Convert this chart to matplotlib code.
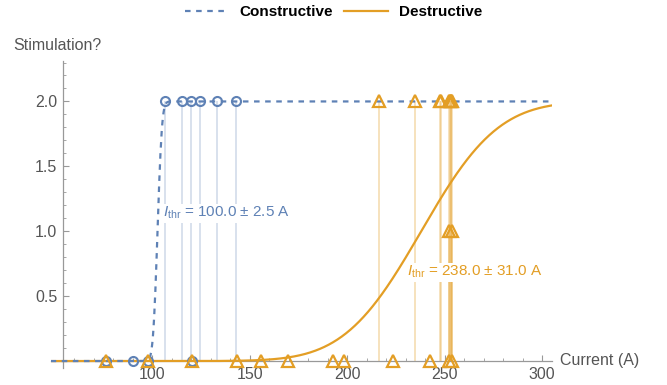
import math
import numpy as np
import matplotlib
matplotlib.use("Agg")
import matplotlib.pyplot as plt
from matplotlib.lines import Line2D

plt.rcParams['font.family'] = ['Liberation Sans', 'DejaVu Sans']
plt.rcParams['mathtext.fontset'] = 'custom'
plt.rcParams['mathtext.rm'] = 'Liberation Sans'
plt.rcParams['mathtext.it'] = 'Liberation Sans:italic'

# measured points (current in A, stimulation level)
con_current = [76.3, 90.4, 98.1, 120.3, 106.7, 115.5, 120.0, 124.5, 133.5, 143.0]
con_stim = [0, 0, 0, 0, 2, 2, 2, 2, 2, 2]

des_current = [76.3, 98.1, 120.3, 143.4, 155.7, 169.9, 192.7, 198.6, 223.7, 242.6,
               252.2, 253.8, 216.4, 234.9, 247.7, 248.1, 252.3, 252.8, 253.2,
               253.5, 254.0, 252.4, 253.6]
des_stim = [0, 0, 0, 0, 0, 0, 0, 0, 0, 0,
            0, 0, 2, 2, 2, 2, 2, 2, 2,
            2, 2, 1, 1]

# fitted threshold curves (mean, width)
con_mu, con_sigma = 102.8, 1.8
des_mu, des_sigma = 238.0, 31.0
con_label = r'$I_{\mathrm{thr}}$ = 100.0 ± 2.5 A'
des_label = r'$I_{\mathrm{thr}}$ = 238.0 ± 31.0 A'

blue = '#5E81B5'
orange = '#E39E25'
grey = '#555555'


def cdf2(x, mu, sigma):
    return np.array([1 + math.erf((v - mu) / (sigma * math.sqrt(2))) for v in x])


fig = plt.figure(figsize=(6.67, 3.85), dpi=100)
ax = fig.add_axes([0.0759, 0.044, 0.7515, 0.797])

xs = np.linspace(48, 305, 800)

# filling lines down to the axis
ax.vlines(con_current, 0, con_stim, color=blue, alpha=0.3, lw=1.1, zorder=1)
ax.vlines(des_current, 0, des_stim, color=orange, alpha=0.3, lw=1.4, zorder=1)

ax.plot(xs, cdf2(xs, des_mu, des_sigma), color=orange, lw=1.6, zorder=3)
ax.plot(xs, cdf2(xs, con_mu, con_sigma), color=blue, lw=1.6,
        dashes=(2.5, 2.5), zorder=3)

ax.plot(con_current, con_stim, 'o', ms=6.5, mfc='none', mec=blue, mew=1.5, zorder=4)
ax.plot(des_current, des_stim, '^', ms=8.5, mfc='none', mec=orange, mew=1.6, zorder=5)

ax.text(105.6, 1.14, con_label, color=blue, fontsize=11, va='center', ha='left',
        bbox=dict(facecolor='white', edgecolor='none', pad=1), zorder=6)
ax.text(230.8, 0.685, des_label, color=orange, fontsize=11, va='center', ha='left',
        bbox=dict(facecolor='white', edgecolor='none', pad=1), zorder=6)

ax.set_xlim(48, 305)
ax.set_ylim(-0.054, 2.31)
ax.spines['left'].set_position(('data', 54.2))
ax.spines['bottom'].set_position(('data', 0))
ax.spines['top'].set_visible(False)
ax.spines['right'].set_visible(False)
for s in ('left', 'bottom'):
    ax.spines[s].set_color('#999999')
    ax.spines[s].set_linewidth(0.9)

ax.set_xticks([100, 150, 200, 250, 300])
ax.set_xticks(np.arange(60, 301, 10), minor=True)
ax.set_yticks([0.5, 1.0, 1.5, 2.0])
ax.set_yticklabels(['0.5', '1.0', '1.5', '2.0'])
ax.set_yticks(np.arange(0.1, 2.31, 0.1), minor=True)
ax.tick_params(which='both', direction='in', color='#999999', labelcolor=grey,
               labelsize=11.5)
ax.tick_params(which='major', length=4.5, width=0.8, pad=4)
ax.tick_params(which='minor', length=2.5, width=0.6)

fig.text(13 / 667, 1 - 45 / 385, 'Stimulation?', color=grey, fontsize=11.5,
         ha='left', va='center')
fig.text(560 / 667, 1 - 361 / 385, 'Current (A)', color=grey, fontsize=11.5,
         ha='left', va='center')

handles = [Line2D([], [], color=blue, lw=1.6, dashes=(2.5, 2.5)),
           Line2D([], [], color=orange, lw=1.6)]
fig.legend(handles, ['Constructive', 'Destructive'], loc='center',
           bbox_to_anchor=(0.5, 1 - 12 / 385), ncol=2, frameon=False,
           prop={'weight': 'bold', 'size': 11}, handlelength=2.9,
           handletextpad=0.7, columnspacing=0.7, borderaxespad=0)

fig.savefig('out.png', dpi=100)
